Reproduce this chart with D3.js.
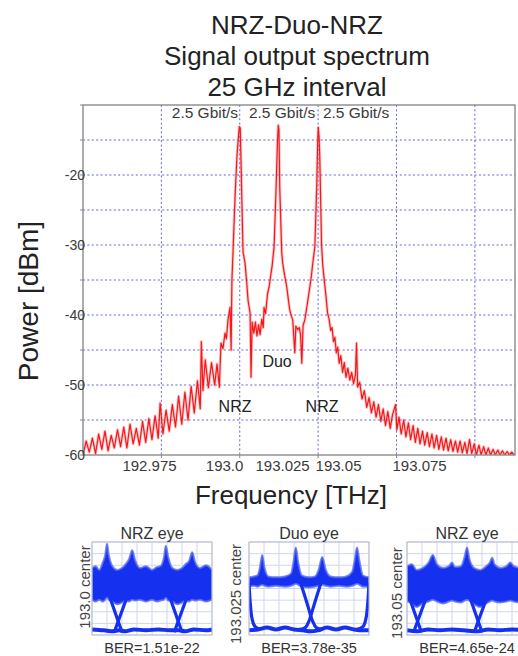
<!DOCTYPE html>
<html>
<head>
<meta charset="utf-8">
<script src="https://cdn.jsdelivr.net/npm/d3@7/dist/d3.min.js"></script>
<style>
  html, body { margin: 0; padding: 0; background: #ffffff; }
  svg { display: block; font-family: "Liberation Sans", Arial, sans-serif; }
</style>
</head>
<body>
<script>
// ---------------- DATA ----------------
const titleLines = ["NRZ-Duo-NRZ", "Signal output spectrum", "25 GHz interval"];
const xAxisTitle = "Frequency [THz]";
const yAxisTitle = "Power [dBm]";

// spectrum trace (THz, dBm)
const freqTHz = [
192.900,192.902,192.904,192.906,192.908,192.910,192.912,192.914,192.916,192.918,
192.920,192.922,192.924,192.926,192.928,192.930,192.932,192.934,192.936,192.938,
192.940,192.942,192.944,192.946,192.948,192.9492,192.951,192.953,192.955,192.957,
192.959,192.961,192.963,192.965,192.967,192.969,192.971,192.973,192.9748,192.9755,
192.9765,192.978,192.980,192.982,192.984,192.9855,192.9870,192.9880,192.9893,192.9906,
192.9915,192.9925,192.9938,192.9945,192.9950,192.9957,192.9970,192.9983,192.9997,193.0003,
193.0008,193.0013,193.0021,193.0034,193.0045,193.0053,193.0066,193.0072,193.0079,193.0090,
193.0100,193.0110,193.0120,193.0130,193.0140,193.0150,193.0155,193.0165,193.0177,193.0187,
193.0200,193.0206,193.0219,193.0232,193.0241,193.0246,193.0250,193.0255,193.0268,193.0274,
193.0287,193.0300,193.0310,193.0319,193.0330,193.0338,193.0351,193.0358,193.0370,193.0380,
193.0388,193.0396,193.0404,193.0415,193.0430,193.0447,193.0457,193.0466,193.0479,193.0491,
193.0497,193.0501,193.0506,193.0510,193.0516,193.0522,193.0530,193.0540,193.0551,193.0560,
193.0570,193.0580,193.0589,193.0598,193.0607,193.0616,193.0625,193.0634,193.0645,193.0656,
193.0667,193.0678,193.0690,193.0702,193.0714,193.0726,193.0738,193.0745,193.0752,193.0765,
193.0780,193.0795,193.0810,193.0825,193.0840,193.0855,193.0870,193.0885,193.0900,193.0915,
193.0930,193.0945,193.0960,193.0975,193.0994,193.1002,193.1016,193.1030,193.1046,193.1060,
193.1076,193.1090,193.1106,193.1120,193.1136,193.1150,193.1166,193.1180,193.1196,193.1210,
193.1226,193.1240,193.1256,193.1270,193.1286,193.1300,193.1316,193.1330,193.1346,193.1360,
193.1376,193.1390,193.1406,193.1420,193.1436,193.1450,193.1466,193.1480,193.1496,193.1510,
193.1526,193.1540,193.1556,193.1570,193.1586,193.1600,193.1616,193.1630,193.1646,193.1660,
193.1676,193.1690,193.1706,193.1720,193.1735,193.1750
];
const powerDBm = [
-60.0,-58.0,-59.6,-57.6,-59.8,-57.0,-59.2,-56.6,-59.4,-57.2,
-59.0,-56.4,-58.8,-56.0,-59.0,-55.6,-58.4,-56.2,-58.6,-55.2,
-58.2,-54.8,-57.8,-54.4,-57.6,-52.6,-57.0,-53.6,-56.6,-52.8,
-56.0,-51.6,-55.6,-51.0,-55.0,-50.2,-54.0,-49.4,-53.4,-43.8,
-50.8,-46.4,-50.4,-46.8,-50.0,-47.0,-50.3,-44.0,-44.8,-42.6,
-43.4,-40.7,-38.9,-45.0,-35.0,-31.1,-23.1,-17.0,-13.1,-13.3,
-18.0,-23.1,-31.0,-32.6,-35.5,-37.9,-39.7,-48.9,-41.0,-42.6,
-41.0,-43.0,-41.4,-42.8,-40.6,-41.8,-38.9,-39.8,-37.0,-36.0,
-34.0,-33.1,-30.3,-21.7,-15.0,-12.9,-13.5,-21.7,-31.1,-32.6,
-34.4,-36.0,-37.8,-39.3,-40.2,-40.7,-45.4,-41.6,-42.1,-41.8,
-42.8,-46.9,-41.5,-40.7,-38.6,-36.0,-34.4,-32.6,-30.3,-21.7,
-15.5,-13.2,-14.6,-17.0,-23.5,-30.0,-33.0,-35.2,-37.5,-39.7,
-40.6,-42.2,-41.8,-43.8,-43.2,-45.4,-44.6,-46.9,-45.8,-48.2,
-46.8,-48.9,-47.6,-49.3,-48.2,-49.8,-48.6,-44.0,-50.3,-49.6,
-52.0,-50.8,-53.2,-51.8,-54.0,-52.4,-54.6,-52.8,-55.2,-53.4,
-55.8,-53.8,-56.2,-54.2,-52.8,-56.4,-54.6,-57.0,-55.0,-57.4,
-55.4,-57.8,-55.8,-58.2,-56.2,-58.4,-56.6,-58.6,-56.8,-58.8,
-57.0,-59.0,-57.2,-59.2,-57.4,-59.3,-57.6,-59.4,-57.8,-59.5,
-58.0,-59.6,-58.0,-59.7,-58.2,-59.8,-57.8,-59.8,-58.4,-60.0,
-58.6,-60.0,-58.8,-60.0,-59.0,-60.0,-59.2,-60.0,-59.3,-60.0,
-59.4,-60.0,-59.5,-60.0,-59.6,-60.0
];

const xGridTHz = [192.95, 193.0, 193.05, 193.1, 193.15];
const yGridDBm = [-55, -50, -45, -40, -35, -30, -25, -20, -15];
const yTickValues = [-60, -50, -40, -30, -20];
const xTickLabels = ["192.975", "193.0", "193.025", "193.05", "193.075"];
const xTickLabelAt = [192.9421, 192.9900, 193.0270, 193.0627, 193.1144];

const rateLabels = ["2.5 Gbit/s", "2.5 Gbit/s", "2.5 Gbit/s"];
const rateLabelAt = [192.9778, 193.0270, 193.0742];
const formatLabels = ["NRZ", "Duo", "NRZ"];
const formatLabelAt = [192.9970, 193.0238, 193.0525];
const formatLabelDBm = [-53.9, -47.4, -53.9];

// eye diagrams: time in bit periods (0..2), amplitude normalised (0..1)
const eyeTitles = ["NRZ eye", "Duo eye", "NRZ eye"];
const eyeCenters = ["193.0 center", "193.025 center", "193.05 center"];
const eyeBER = ["BER=1.51e-22", "BER=3.78e-35", "BER=4.65e-24"];

const eye1Time  = [0,.06,.12,.18,.22,.25,.28,.34,.42,.5,.56,.62,.67,.72,.8,.9,1.0,1.08,1.14,1.2,1.23,1.27,1.34,1.42,1.5,1.56,1.62,1.67,1.72,1.8,1.9,2.0];
const eye1Upper = [.72,.74,.70,.78,.86,.98,.86,.74,.70,.72,.76,.82,.91,.80,.72,.74,.70,.73,.74,.84,.96,.84,.72,.70,.72,.76,.80,.89,.78,.72,.75,.70];
const eye1Lower = [.38,.36,.38,.36,.38,.40,.38,.36,.33,.35,.37,.36,.38,.37,.38,.36,.38,.36,.37,.38,.40,.37,.36,.33,.35,.37,.36,.38,.37,.38,.36,.38];
const eye1RailTime = [0,.2,.35,.45,.55,.7,.9,1.1,1.3,1.45,1.55,1.7,1.9,2.0];
const eye1Rail     = [.06,.05,.04,.05,.04,.06,.05,.06,.05,.05,.04,.06,.05,.06];
const eye1Edges = [
  [[.30,.40],[.50,.03]], [[.58,.40],[.37,.03]],
  [[1.30,.40],[1.50,.03]], [[1.58,.40],[1.37,.03]]
];

const eye2Time  = [0,.08,.14,.18,.22,.26,.32,.45,.6,.7,.74,.78,.82,.88,1.0,1.1,1.16,1.22,1.28,1.36,1.5,1.62,1.72,1.76,1.8,1.84,1.9,2.0];
const eye2Upper = [.62,.63,.64,.72,.86,.72,.63,.62,.63,.66,.78,.94,.78,.64,.62,.63,.70,.84,.70,.63,.62,.63,.68,.80,.94,.80,.64,.62];
const eye2Lower = [.52,.53,.52,.53,.54,.53,.52,.53,.52,.53,.54,.55,.54,.52,.51,.52,.53,.54,.53,.52,.53,.52,.53,.54,.55,.54,.52,.52];
const eye2RailTime = [0,.15,.3,.45,.6,.75,.9,1.03,1.15,1.3,1.45,1.6,1.75,1.9,2.0];
const eye2Rail     = [.05,.06,.08,.06,.08,.06,.05,.04,.05,.08,.06,.08,.06,.05,.05];
const eye2Edges = [
  [[0,.56],[.02,.35],[.05,.18],[.10,.09],[.20,.06]],
  [[.86,.56],[.93,.42],[1.0,.27],[1.06,.15],[1.12,.08],[1.22,.06]],
  [[1.20,.56],[1.13,.42],[1.06,.27],[1.0,.15],[.94,.08],[.84,.06]],
  [[2.0,.56],[1.98,.35],[1.95,.18],[1.90,.09],[1.80,.06]]
];

const eye3Time  = [0,.08,.16,.26,.36,.43,.5,.6,.7,.75,.8,.9,.96,1.0,1.04,1.12,1.22,1.32,1.38,1.42,1.46,1.56,1.66,1.72,1.78,1.9,2.0];
const eye3Upper = [.74,.76,.70,.72,.78,.86,.76,.72,.74,.78,.73,.74,.84,.94,.82,.72,.70,.74,.78,.83,.76,.72,.74,.78,.74,.72,.74];
const eye3Lower = [.36,.34,.30,.34,.36,.38,.36,.34,.36,.37,.36,.35,.37,.38,.37,.33,.30,.34,.36,.37,.36,.35,.36,.37,.36,.35,.36];
const eye3RailTime = [0,.17,.35,.55,.75,.95,1.18,1.35,1.55,1.75,2.0];
const eye3Rail     = [.05,.04,.06,.05,.06,.05,.04,.06,.05,.06,.05];
const eye3Edges = [
  [[.04,.40],[.24,.03]], [[.32,.40],[.11,.03]],
  [[1.05,.40],[1.25,.03]], [[1.33,.40],[1.12,.03]]
];

// ---------------- DRAW ----------------
const W = 518, H = 656;
const svg = d3.select("body").append("svg").attr("width", W).attr("height", H);
svg.append("rect").attr("width", W).attr("height", H).attr("fill", "#ffffff");

const plot = { left: 83, right: 515, top: 105, bottom: 455 };
const x = d3.scaleLinear().domain([192.9, 193.1756]).range([plot.left, plot.right]);
const y = d3.scaleLinear().domain([-60, -10]).range([plot.bottom, plot.top]);

// titles
svg.append("g").selectAll("text").data(titleLines).join("text")
  .attr("x", 297).attr("y", (d, i) => 34 + i * 31)
  .attr("text-anchor", "middle").attr("font-size", 26).attr("fill", "#222")
  .text(d => d);

// grid
const gridStyle = sel => sel.attr("stroke", "#4a4ad2").attr("stroke-width", 1)
  .attr("stroke-dasharray", "2,2.4").attr("opacity", 0.85);
svg.append("g").selectAll("line").data(xGridTHz).join("line")
  .attr("x1", d => x(d)).attr("x2", d => x(d))
  .attr("y1", plot.top).attr("y2", plot.bottom).call(gridStyle);
svg.append("g").selectAll("line").data(yGridDBm).join("line")
  .attr("x1", plot.left).attr("x2", plot.right)
  .attr("y1", d => y(d)).attr("y2", d => y(d)).call(gridStyle);

// clip for spectrum
svg.append("clipPath").attr("id", "plotClip").append("rect")
  .attr("x", plot.left).attr("y", plot.top)
  .attr("width", plot.right - plot.left).attr("height", plot.bottom - plot.top);

const line = d3.line().x((d, i) => x(freqTHz[i])).y((d, i) => y(powerDBm[i]));
const spec = svg.append("g").attr("clip-path", "url(#plotClip)");
// soft halo imitating the dense, anti-aliased trace
spec.append("path").datum(powerDBm)
  .attr("d", line).attr("fill", "none")
  .attr("stroke", "#ff5a5a").attr("stroke-width", 3).attr("stroke-opacity", 0.35)
  .attr("stroke-linejoin", "round");
spec.append("path").datum(powerDBm)
  .attr("d", line).attr("fill", "none")
  .attr("stroke", "#f2181c").attr("stroke-width", 1.2).attr("stroke-linejoin", "round");

// frame
svg.append("rect").attr("x", plot.left).attr("y", plot.top)
  .attr("width", plot.right - plot.left).attr("height", plot.bottom - plot.top)
  .attr("fill", "none").attr("stroke", "#8a8a8a").attr("stroke-width", 1.4);

// y axis
const yAxis = d3.axisLeft(y).tickValues(yTickValues).tickSize(0).tickPadding(0)
  .tickFormat(d => String(d));
const gy = svg.append("g").attr("transform", `translate(${plot.left + 2},0)`).call(yAxis);
gy.select(".domain").remove();
gy.selectAll("text").attr("font-size", 14).attr("fill", "#3a3a3a")
  .attr("font-family", "'Liberation Sans', Arial, sans-serif");
svg.append("g").selectAll("line").data(yGridDBm.concat([-60, -10])).join("line")
  .attr("x1", plot.left - 3).attr("x2", plot.left)
  .attr("y1", d => y(d)).attr("y2", d => y(d))
  .attr("stroke", "#8a8a8a").attr("stroke-width", 1);

// x axis labels (placed where they appear in the picture)
const xAxis = d3.axisBottom(x).tickValues(xTickLabelAt).tickSize(0).tickPadding(0)
  .tickFormat((d, i) => xTickLabels[i]);
const gx = svg.append("g").attr("transform", `translate(0,${plot.bottom + 5})`).call(xAxis);
gx.select(".domain").remove();
gx.selectAll("text").attr("font-size", 15).attr("fill", "#3a3a3a")
  .attr("font-family", "'Liberation Sans', Arial, sans-serif");
svg.append("g").selectAll("line").data(xGridTHz).join("line")
  .attr("x1", d => x(d)).attr("x2", d => x(d))
  .attr("y1", plot.bottom).attr("y2", plot.bottom + 3)
  .attr("stroke", "#8a8a8a").attr("stroke-width", 1);

// axis titles
svg.append("text").attr("x", 291).attr("y", 504).attr("text-anchor", "middle")
  .attr("font-size", 26).attr("fill", "#222").text(xAxisTitle);
svg.append("text").attr("transform", "translate(38,301) rotate(-90)")
  .attr("text-anchor", "middle").attr("font-size", 28).attr("fill", "#222").text(yAxisTitle);

// annotations
svg.append("g").selectAll("text").data(rateLabels).join("text")
  .attr("x", (d, i) => x(rateLabelAt[i])).attr("y", 118)
  .attr("text-anchor", "middle").attr("font-size", 15.5).attr("fill", "#3a3a3a")
  .text(d => d);
svg.append("g").selectAll("text").data(formatLabels).join("text")
  .attr("x", (d, i) => x(formatLabelAt[i])).attr("y", (d, i) => y(formatLabelDBm[i]))
  .attr("text-anchor", "middle").attr("font-size", 16).attr("fill", "#222")
  .text(d => d);

// ---------------- EYE PANELS ----------------
const eyes = [
  { t: eye1Time, up: eye1Upper, lo: eye1Lower, rt: eye1RailTime, rail: eye1Rail, edges: eye1Edges },
  { t: eye2Time, up: eye2Upper, lo: eye2Lower, rt: eye2RailTime, rail: eye2Rail, edges: eye2Edges },
  { t: eye3Time, up: eye3Upper, lo: eye3Lower, rt: eye3RailTime, rail: eye3Rail, edges: eye3Edges }
];
const boxX = [92, 249, 407];
const centerLabelX = [90, 241, 402];
const centerLabelY = [587, 594, 593];
const boxW = 120, boxTop = 542, boxBottom = 635;
const eyeBlue = "#1530ee";

eyes.forEach((e, k) => {
  const ex = d3.scaleLinear().domain([0, 2]).range([boxX[k], boxX[k] + boxW]);
  const ey = d3.scaleLinear().domain([0, 1]).range([boxBottom, boxTop]);
  const g = svg.append("g");
  const cid = "eyeClip" + k;
  svg.append("clipPath").attr("id", cid).append("rect")
    .attr("x", boxX[k]).attr("y", boxTop).attr("width", boxW).attr("height", boxBottom - boxTop);

  const gt = d3.range(0, 2.0001, 0.25), gv = d3.range(0, 1.0001, 0.125);
  g.append("g").selectAll("line").data(gt).join("line")
    .attr("x1", d => ex(d)).attr("x2", d => ex(d)).attr("y1", boxTop).attr("y2", boxBottom)
    .attr("stroke", "#cfd6ee").attr("stroke-width", 1);
  g.append("g").selectAll("line").data(gv).join("line")
    .attr("x1", boxX[k]).attr("x2", boxX[k] + boxW).attr("y1", d => ey(d)).attr("y2", d => ey(d))
    .attr("stroke", "#cfd6ee").attr("stroke-width", 1);

  const inner = g.append("g").attr("clip-path", `url(#${cid})`);
  const area = d3.area().curve(d3.curveMonotoneX)
    .x((d, i) => ex(e.t[i])).y0((d, i) => ey(e.lo[i])).y1((d, i) => ey(e.up[i]));
  inner.append("path").datum(e.up).attr("d", area)
    .attr("fill", eyeBlue).attr("stroke", "#5a6ef2").attr("stroke-width", 2).attr("stroke-opacity", 0.8);

  const rail = d3.line().curve(d3.curveMonotoneX)
    .x((d, i) => ex(e.rt[i])).y(d => ey(d));
  inner.append("path").datum(e.rail).attr("d", rail)
    .attr("fill", "none").attr("stroke", eyeBlue).attr("stroke-width", 4);

  const edge = d3.line().curve(d3.curveCatmullRom).x(d => ex(d[0])).y(d => ey(d[1]));
  inner.append("g").selectAll("path").data(e.edges).join("path")
    .attr("d", edge).attr("fill", "none").attr("stroke", eyeBlue).attr("stroke-width", 3.2);

  g.append("rect").attr("x", boxX[k]).attr("y", boxTop).attr("width", boxW).attr("height", boxBottom - boxTop)
    .attr("fill", "none").attr("stroke", "#b9bccb").attr("stroke-width", 1);

  g.append("text").attr("x", boxX[k] + boxW / 2).attr("y", 539).attr("text-anchor", "middle")
    .attr("font-size", 16).attr("fill", "#333").text(eyeTitles[k]);
  g.append("text").attr("transform", `translate(${centerLabelX[k]},${centerLabelY[k]}) rotate(-90)`)
    .attr("text-anchor", "middle").attr("font-size", 15).attr("fill", "#444").text(eyeCenters[k]);
  g.append("text").attr("x", boxX[k] + boxW / 2).attr("y", 653).attr("text-anchor", "middle")
    .attr("font-size", 14.5).attr("fill", "#333").text(eyeBER[k]);
});
</script>
</body>
</html>
